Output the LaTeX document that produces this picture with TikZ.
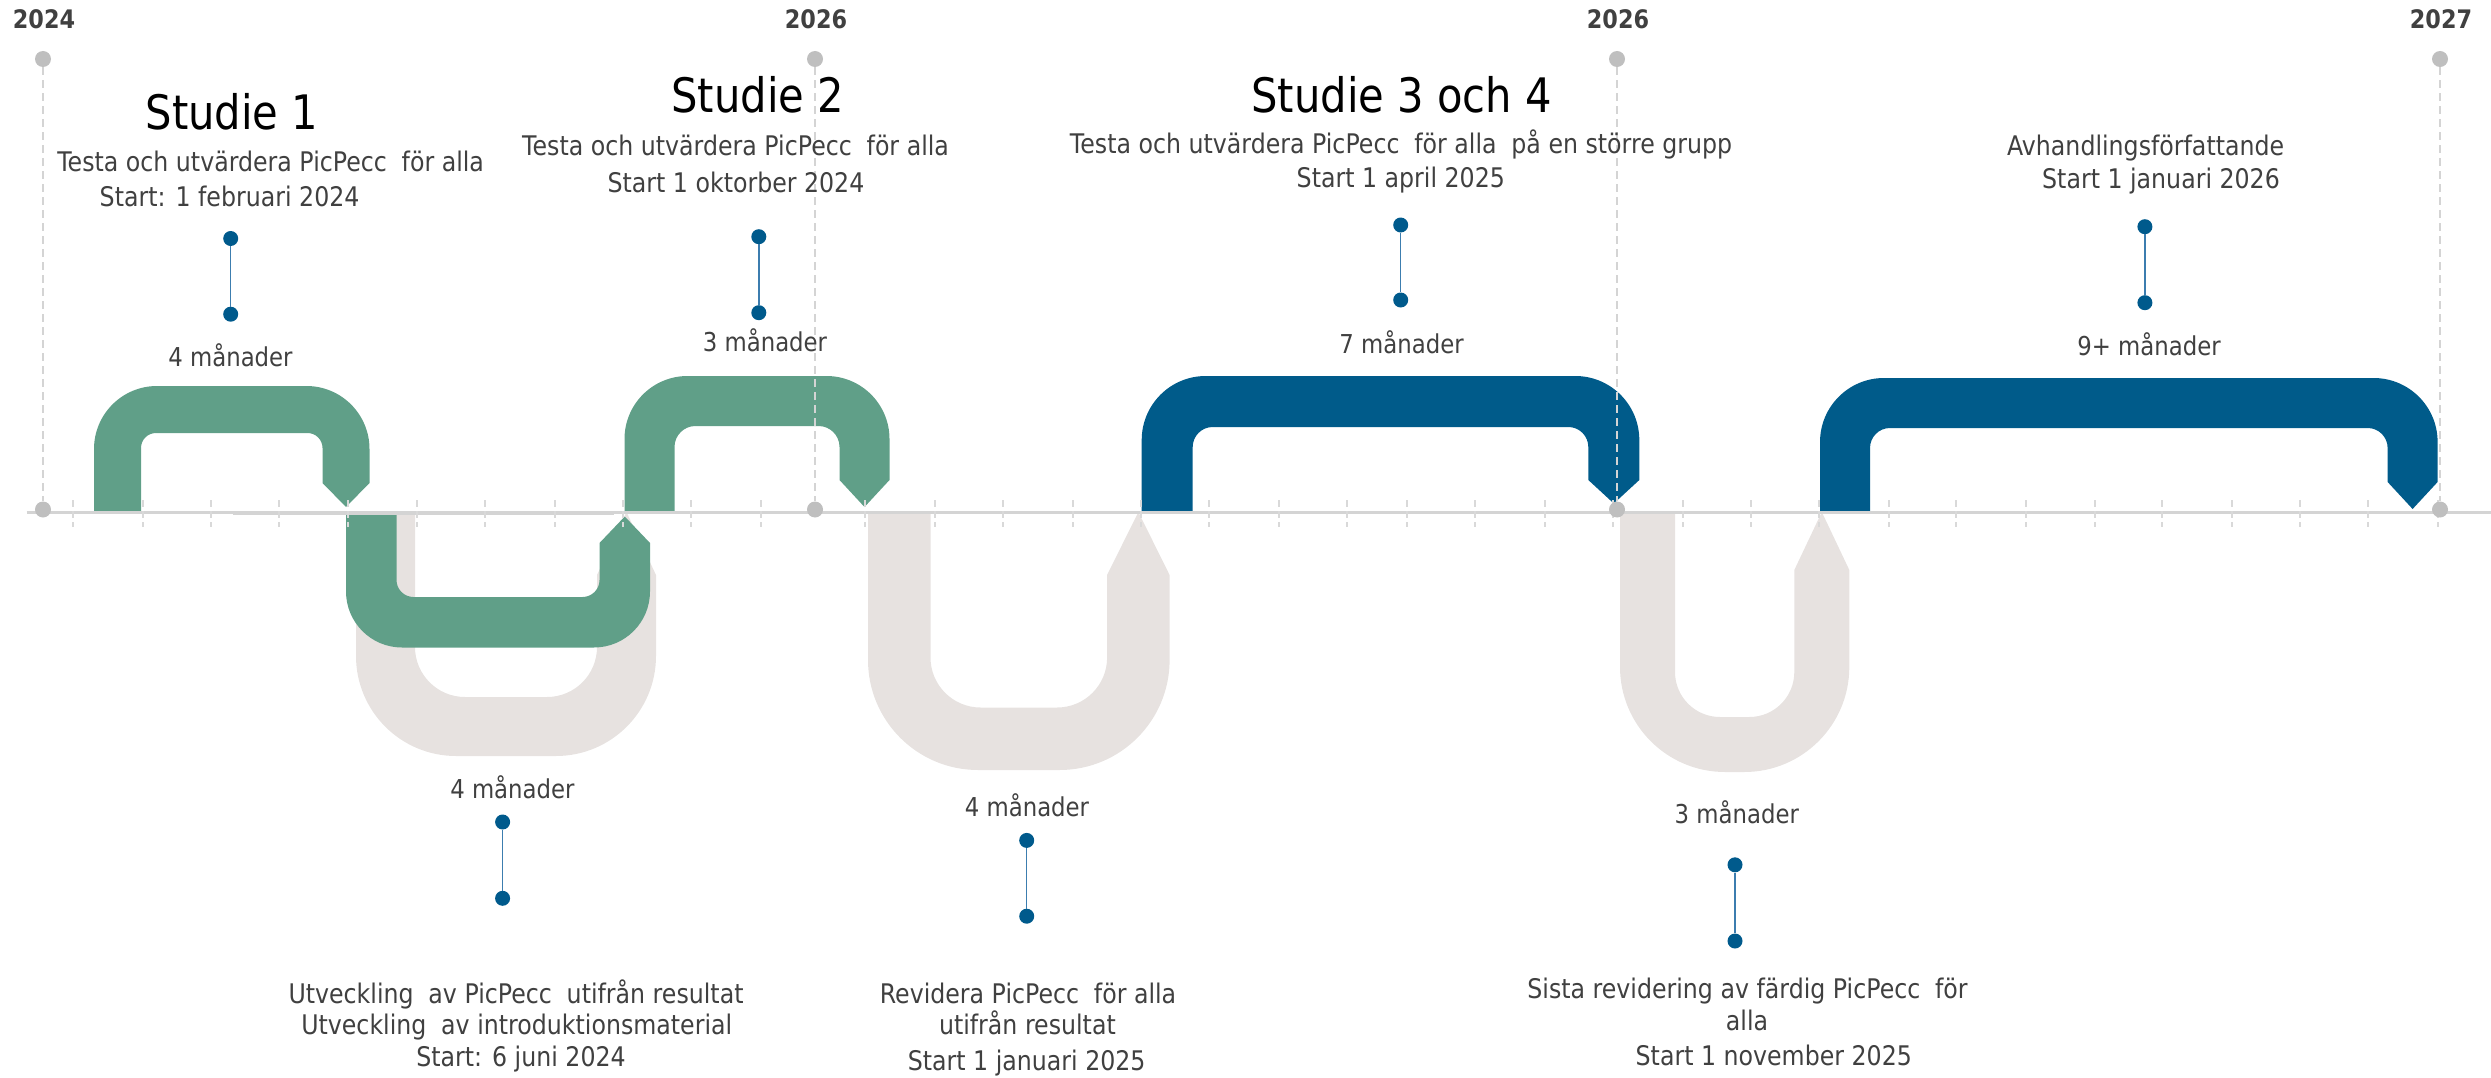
\documentclass[tikz,border=0pt]{standalone}
\usepackage{fontspec}
\setmainfont{DejaVu Sans}[FakeStretch=0.877]
\definecolor{grn}{RGB}{96,159,136}
\definecolor{blu}{RGB}{0,91,138}
\definecolor{lgr}{RGB}{231,226,224}
\definecolor{axc}{RGB}{212,212,212}
\definecolor{tickc}{RGB}{217,217,217}
\definecolor{dotc}{RGB}{191,191,191}
\definecolor{txtc}{RGB}{64,64,64}
\definecolor{stemc}{RGB}{60,125,175}
\definecolor{stemdot}{RGB}{0,90,140}
\newcommand\wsp{\hspace{0.27em}}
% arch opening downward: xL xR yTop w R r yFlat yBase yTip
\newcommand\archshape[9]{%
  \fill[\shapecol] (#1,#7) -- (#1,{#3+#5}) arc[start angle=180,end angle=270,radius=#5]
    -- ({#2-#5},#3) arc[start angle=270,end angle=360,radius=#5]
    -- (#2,#8) -- ({#2-#4/2},#9) -- ({#2-#4},#8)
    -- ({#2-#4},{#3+#4+#6}) arc[start angle=0,end angle=-90,radius=#6]
    -- ({#1+#4+#6},{#3+#4}) arc[start angle=270,end angle=180,radius=#6]
    -- ({#1+#4},#7) -- cycle;}
% U opening upward: xL xR yBot w R r yFlat yBase yTip
\newcommand\ushape[9]{%
  \fill[\shapecol] (#1,#7) -- (#1,{#3-#5}) arc[start angle=180,end angle=90,radius=#5]
    -- ({#2-#5},#3) arc[start angle=90,end angle=0,radius=#5]
    -- (#2,#8) -- ({#2-#4/2},#9) -- ({#2-#4},#8)
    -- ({#2-#4},{#3-#4-#6}) arc[start angle=0,end angle=90,radius=#6]
    -- ({#1+#4+#6},{#3-#4}) arc[start angle=90,end angle=180,radius=#6]
    -- ({#1+#4},#7) -- cycle;}
\begin{document}
\begin{tikzpicture}[x=1pt,y=-1pt,
  axisline/.style={draw=axc,line width=2.5pt},
  tickmark/.style={draw=tickc,line width=1.3pt,dash pattern=on 7pt off 4pt},
  ydot/.style={circle,fill=dotc,inner sep=0pt,minimum size=16pt},
  ydash/.style={draw=axc,line width=1.3pt,dash pattern=on 8pt off 5pt},
  sdot/.style={circle,fill=stemdot,inner sep=0pt,minimum size=15pt},
  stemline/.style={draw=stemc,line width=1.5pt},
  txt/.style={font=\fontsize{27}{31}\selectfont,text=txtc,inner sep=0pt,anchor=base},
  mtxt/.style={font=\fontsize{26}{30}\selectfont,text=txtc,inner sep=0pt,anchor=base},
  ttl/.style={font=\fontsize{47.5}{52}\selectfont,text=black,inner sep=0pt,anchor=base},
  yr/.style={font=\fontsize{25.5}{28}\selectfont\bfseries,text=txtc,inner sep=0pt,anchor=base}]
\useasboundingbox (0,0) rectangle (2491,1078);
% grey U shapes (behind)
\def\shapecol{lgr}
\ushape{356}{656}{756}{59}{100}{50}{512}{575}{512}
\ushape{868}{1169.6}{770}{62.5}{110}{50}{512}{575}{512}
\ushape{1620}{1849.3}{772}{55}{105}{45}{512}{570}{512}
% green shapes
\def\shapecol{grn}
\archshape{94}{369.5}{386}{47}{63}{15}{512}{483}{507}
\ushape{346}{650}{647.5}{50.5}{56}{17}{512}{543}{516.5}
\archshape{624.5}{889.5}{376}{50}{63}{21}{511.5}{480}{507}
% blue shapes
\def\shapecol{blu}
\archshape{1141.7}{1639.3}{376}{51}{64}{20}{512.5}{480}{503.5}
\archshape{1820}{2437.6}{378}{50}{64}{20}{513}{482}{509}
% axis
\coordinate (axL) at (26.5,512.7);
\coordinate (axR) at (2491,512.7);
\draw[axisline] (axL) -- (axR);
\fill[axc] (233,510.5) rectangle (614,514.5);
\foreach \tx in {73,143,211,279,348,417,485,555,623,691,761,865,935,1003,1073,1141,1209,1279,1347,1407,1475,1545,1613,1683,1751,1819,1889,1956,2026,2095,2162,2232,2300,2368,2438}
  \draw[tickmark] (\tx,500) -- (\tx,527);
% year marks
\foreach \yx/\yl [count=\i] in {43/2024,815/2026,1617/2026,2440/2027} {
  \node[ydot] (yt\i) at (\yx,59) {};
  \node[ydot] (yb\i) at (\yx,509.5) {};
  \draw[ydash] (yt\i) -- (yb\i);
  \node[yr] (yl\i) at (\yx+1,28.6) {\yl};
}
% stems
\foreach \sx/\sa/\sb [count=\i] in {230.7/238.5/314.2,758.8/236.7/312.7,1400.7/225/300,2144.9/226.7/302.7,502.6/822/898.3,1026.7/840.4/916.2,1735/864.8/941} {
  \node[sdot] (sa\i) at (\sx,\sa) {};
  \node[sdot] (sb\i) at (\sx,\sb) {};
  \draw[stemline] (sa\i) -- (sb\i);
}
% titles
\node[ttl] (t1) at (232,129.2) {Studie 1};
\node[ttl] (t2) at (757.7,112.5) {Studie 2};
\node[ttl] (t3) at (1401.6,112.5) {Studie 3 och 4};
% top texts
\node[txt] (a1) at (270.6,171.4) {Testa och utvärdera PicPecc \wsp för alla};
\node[txt] (a2) at (229.6,207) {Start: 1 februari 2024};
\node[txt,anchor=base west] (b1) at (522,156) {Testa och utvärdera PicPecc \wsp för alla};
\node[txt] (b2) at (736,192.8) {Start 1 oktorber 2024};
\node[txt] (c1) at (1401,153.5) {Testa och utvärdera PicPecc \wsp för alla \wsp på en större grupp};
\node[txt] (c2) at (1400.8,187.4) {Start 1 april 2025};
\node[txt] (d1) at (2145.6,155.3) {Avhandlingsförfattande};
\node[txt] (d2) at (2161,188.5) {Start 1 januari 2026};
% durations
\node[mtxt] (m1) at (230.5,366) {4 månader};
\node[mtxt] (m2) at (765,351.6) {3 månader};
\node[mtxt] (m3) at (1401.6,353.4) {7 månader};
\node[mtxt] (m4) at (2149,355.2) {9+ månader};
\node[mtxt] (m5) at (512.4,798) {4 månader};
\node[mtxt] (m6) at (1027,816) {4 månader};
\node[mtxt] (m7) at (1736.8,823) {3 månader};
% bottom texts
\node[txt] (e1) at (516,1003.9) {Utveckling \wsp av PicPecc \wsp utifrån resultat};
\node[txt] (e2) at (516.7,1034.4) {Utveckling \wsp av introduktionsmaterial};
\node[txt] (e3) at (521,1066.7) {Start: 6 juni 2024};
\node[txt] (f1) at (1028,1003.9) {Revidera PicPecc \wsp för alla};
\node[txt] (f2) at (1027.4,1034.4) {utifrån resultat};
\node[txt] (f3) at (1026.7,1070.6) {Start 1 januari 2025};
\node[txt] (g1) at (1747.5,998) {Sista revidering av färdig PicPecc \wsp för};
\node[txt] (g2) at (1747,1030.8) {alla};
\node[txt] (g3) at (1773.8,1065) {Start 1 november 2025};
\end{tikzpicture}
\end{document}
